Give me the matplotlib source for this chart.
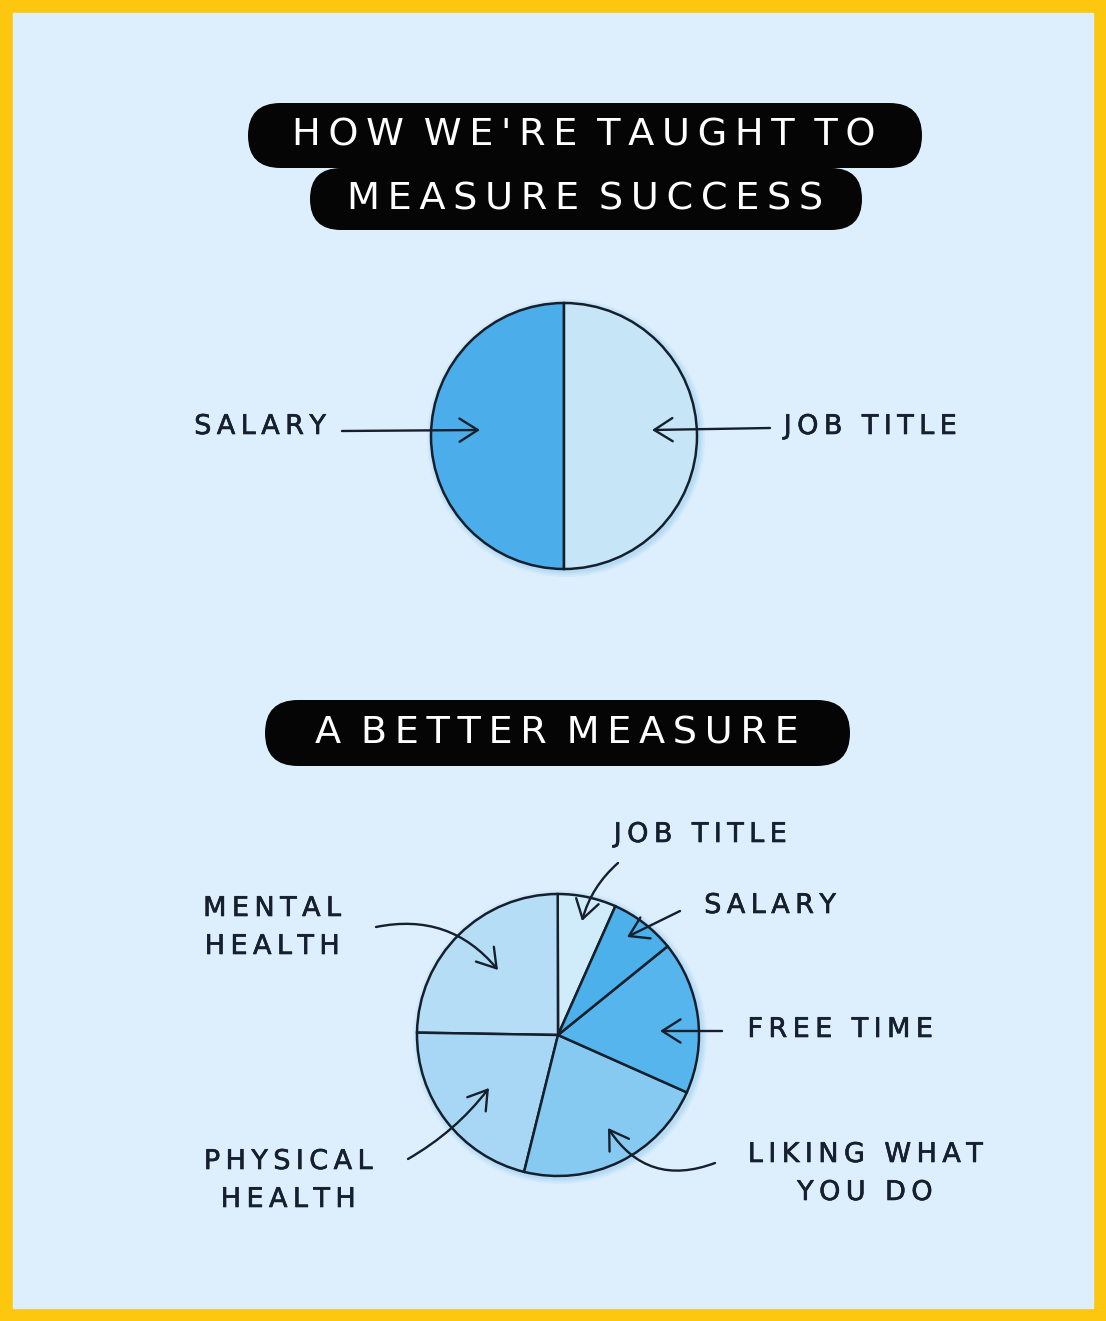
import numpy as np
import matplotlib
matplotlib.use("Agg")
import matplotlib.pyplot as plt
import matplotlib.patheffects as pe
from matplotlib.patches import FancyBboxPatch, Rectangle, Circle

# data
top_labels = ["SALARY", "JOB TITLE"]
top_values = [50, 50]
top_colors = ["#4badea", "#c6e6f8"]

bottom_labels = ["JOB TITLE", "MENTAL\nHEALTH", "PHYSICAL\nHEALTH",
                 "LIKING WHAT\nYOU DO", "FREE TIME", "SALARY"]
bottom_values = [6.7, 24.7, 21.4, 22.2, 17.5, 7.5]
bottom_colors = ["#d0ebfa", "#b5ddf6", "#a8d7f5", "#86c9f1", "#55b5ec", "#4cb0ea"]

titles = ["HOW WE'RE TAUGHT TO", "MEASURE SUCCESS", "A BETTER MEASURE"]

W, H = 1106, 1321
ink = "#16202c"
bg = "#ddeffc"

def sp(s, gap=" \u2009\u2009"):
    # letter spacing with thin spaces, a bit more between words
    lines = []
    for line in s.split("\n"):
        lines.append(gap.join("\u2009".join(w) for w in line.split(" ")))
    return "\n".join(lines)

def Y(y):
    return H - y

fig = plt.figure(figsize=(W / 100, H / 100), dpi=100)
fig.patch.set_facecolor("#fdc70f")
ax = fig.add_axes([0, 0, 1, 1])
ax.add_patch(Rectangle((13, 13), W - 26, H - 26, color=bg, zorder=0))

# title pills
pills = [(248, 103, 674, 65), (310, 168, 552, 62), (265, 700, 585, 66)]
title_xy = [(584, 136), (585, 199), (557, 734)]
for (x, y, w, h) in pills:
    ax.add_patch(FancyBboxPatch((x, Y(y + h)), w, h,
                                boxstyle="round,pad=0,rounding_size=%f" % (h / 2),
                                fc="#050505", ec="none", zorder=2))
for t, (x, y) in zip(titles, title_xy):
    ax.text(x, Y(y), sp(t, " \u2009"), color="white", fontsize=27.5, ha="center", va="center",
            family="DejaVu Sans", zorder=3)

# soft shadow around pies
for (cx, cy, r) in [(564, 436, 133), (558, 1035, 141)]:
    for k, a in [(6, 0.18), (4, 0.25), (2, 0.35)]:
        ax.add_patch(Circle((cx + 2, Y(cy) - 2), r + k, color="#9fd0f2", alpha=a, lw=0, zorder=1))

wp = dict(edgecolor=ink, linewidth=1.8)
ax.pie(top_values, colors=top_colors, startangle=90, counterclock=True,
       center=(564, Y(436)), radius=133, wedgeprops=wp)
ax.pie(bottom_values, colors=bottom_colors, startangle=66, counterclock=True,
       center=(558, Y(1035)), radius=141, wedgeprops=wp)

# labels
lab_kw = dict(color=ink, fontsize=19.5, ha="center", va="center", family="DejaVu Sans",
              linespacing=1.6, zorder=4,
              path_effects=[pe.withStroke(linewidth=0.45, foreground=ink)])
ax.text(260, Y(427), sp(top_labels[0]), **lab_kw)
ax.text(870, Y(427), sp(top_labels[1]), **lab_kw)
ax.text(700, Y(835), sp(bottom_labels[0]), **lab_kw)
ax.text(272, Y(928), sp(bottom_labels[1]), **lab_kw)
ax.text(288, Y(1181), sp(bottom_labels[2]), **lab_kw)
ax.text(865, Y(1174), sp(bottom_labels[3]), **lab_kw)
ax.text(840, Y(1030), sp(bottom_labels[4]), **lab_kw)
ax.text(770, Y(906), sp(bottom_labels[5]), **lab_kw)

# arrows (tail, head, curvature)
arrows = [((342, 431), (480, 430), 0.0),
          ((770, 428), (652, 430), 0.0),
          ((618, 863), (582, 921), 0.15),
          ((680, 911), (627, 937), 0.0),
          ((376, 927), (498, 970), -0.3),
          ((722, 1031), (660, 1031), 0.0),
          ((715, 1163), (608, 1128), -0.4),
          ((408, 1159), (489, 1088), 0.1)]
for (t, h, rad) in arrows:
    ax.annotate("", xy=(h[0], Y(h[1])), xytext=(t[0], Y(t[1])), zorder=5,
                arrowprops=dict(arrowstyle="->,head_length=0.6,head_width=0.38",
                                color=ink, lw=1.7, mutation_scale=22, shrinkA=0, shrinkB=0,
                                connectionstyle="arc3,rad=%f" % rad))

ax.set_xlim(0, W)
ax.set_ylim(0, H)
ax.set_aspect("equal")
ax.axis("off")
fig.savefig("out.png", dpi=100, facecolor=fig.get_facecolor())
